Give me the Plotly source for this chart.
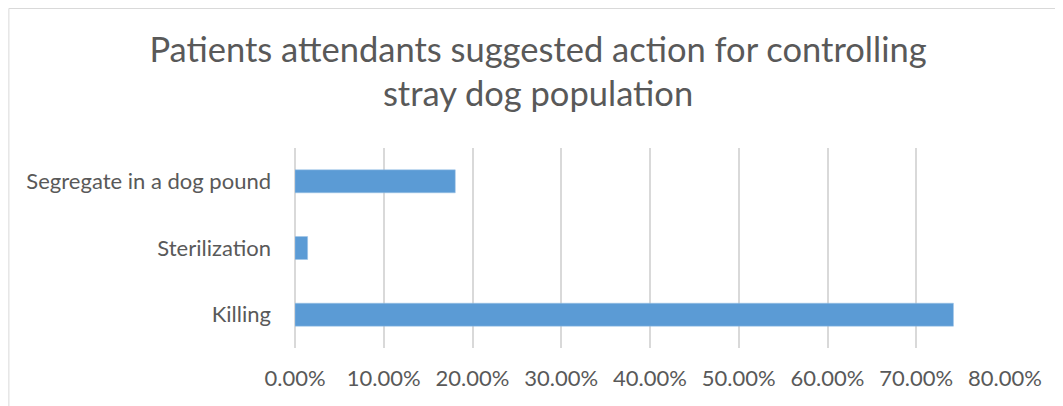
import plotly.graph_objects as go

# answers, bottom to top as in the chart
actions = ["Killing", "Sterilization", "Segregate in a dog pound"]
percent = [74.19, 1.42, 18.06]

x_ticks = [0, 10, 20, 30, 40, 50, 60, 70, 80]
x_labels = [f"{v:.2f}%" for v in x_ticks]

fig = go.Figure(
    go.Bar(
        x=percent,
        y=actions,
        orientation="h",
        marker=dict(color="#5b9bd5", line=dict(color="#9dc3e6", width=0.5)),
        width=0.345,
    )
)

# page is shown with an 8px body margin, so the plot box is set 8px up/left
fig.update_layout(
    width=1063,
    height=406,
    margin=dict(l=287, r=66, t=140, b=66, autoexpand=False),
    paper_bgcolor="white",
    plot_bgcolor="white",
    font=dict(family="Lato, 'Open Sans', sans-serif", color="#595959", size=22),
    title=dict(
        text="Patients attendants suggested action for controlling<br>stray dog population",
        font=dict(size=34.5, color="#595959"),
        x=0.4986,
        xanchor="center",
        xref="container",
        yref="container",
        y=0.868,
        yanchor="top",
    ),
    showlegend=False,
    shapes=[
        dict(
            type="rect",
            xref="paper",
            yref="paper",
            x0=-0.403,
            x1=1.2,
            y0=-0.5,
            y1=1.6975,
            line=dict(color="#d9d9d9", width=1),
        )
    ],
)

fig.update_xaxes(
    range=[0, 80],
    tickvals=x_ticks,
    ticktext=x_labels,
    showgrid=True,
    gridcolor="#d9d9d9",
    gridwidth=1.5,
    zeroline=True,
    zerolinecolor="#d9d9d9",
    zerolinewidth=1.5,
    showline=False,
    ticklabelstandoff=15,
    automargin=False,
)
fig.update_yaxes(
    showgrid=False,
    showline=False,
    ticklabelstandoff=23,
    automargin=False,
)

fig.write_html("out.html")
